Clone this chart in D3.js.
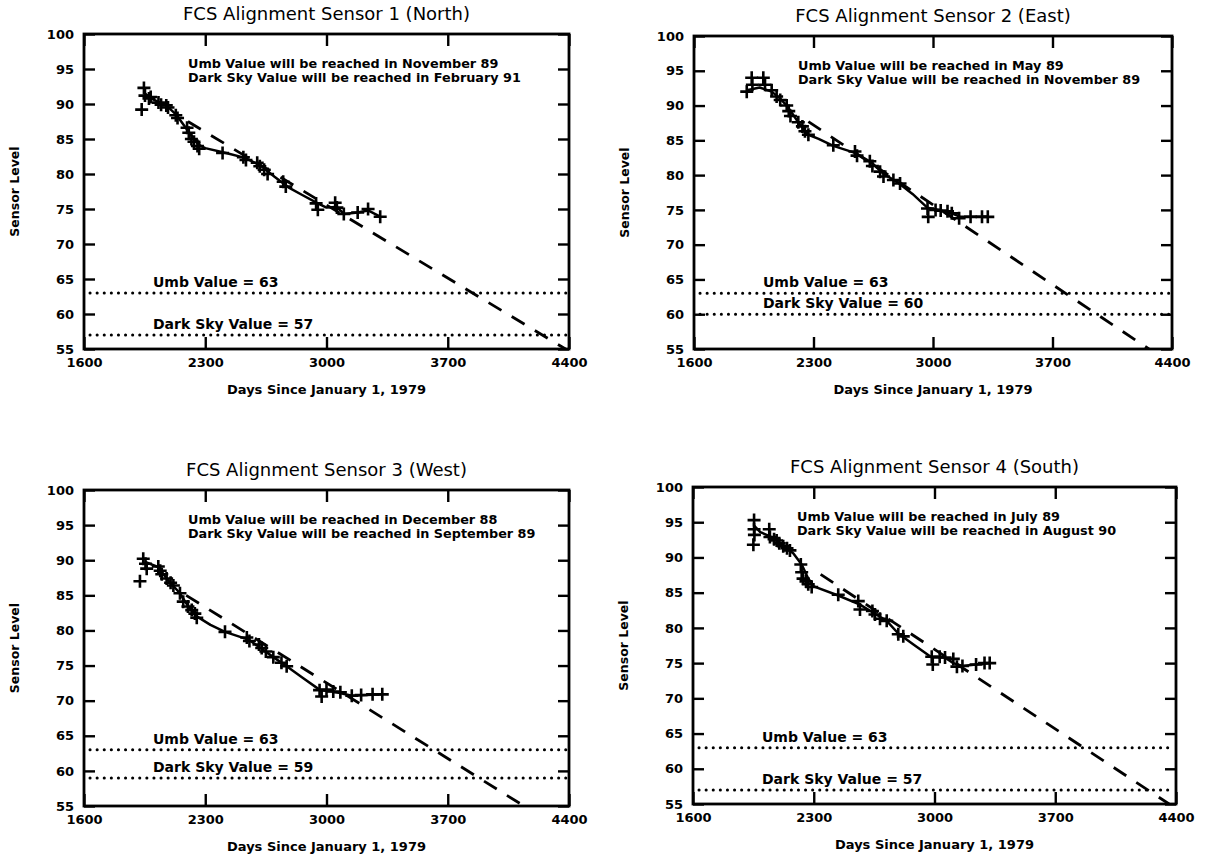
<!DOCTYPE html>
<html><head><meta charset="utf-8">
<script src="https://cdn.jsdelivr.net/npm/d3@7"></script>
<style>
html,body{margin:0;padding:0;background:#fff;}
svg{display:block;}
text{font-family:"DejaVu Sans",sans-serif;fill:#000;}
</style></head><body>
<svg id="chart" width="1207" height="854"></svg>
<script>
// ---------- DATA ----------
const xTicks = [1600, 2300, 3000, 3700, 4400];
const yTicks = [55, 60, 65, 70, 75, 80, 85, 90, 95, 100];
const titles = [
  "FCS Alignment Sensor 1 (North)",
  "FCS Alignment Sensor 2 (East)",
  "FCS Alignment Sensor 3 (West)",
  "FCS Alignment Sensor 4 (South)"
];
const umbValues = [63, 63, 63, 63];
const darkSkyValues = [57, 60, 59, 57];
const umbReached = ["November 89", "May 89", "December 88", "July 89"];
const darkReached = ["February 91", "November 89", "September 89", "August 90"];
const xAxisTitle = "Days Since January 1, 1979";
const yAxisTitle = "Sensor Level";

// measured readings (day, sensor level)
const sensor1Points = [[1933,89.2],[1946,92.3],[1952,91.2],[1975,90.8],[1985,91.0],[2030,90.2],[2045,89.9],[2075,89.8],[2085,89.5],[2130,88.4],[2140,88.0],[2195,86.6],[2205,85.9],[2220,85.0],[2235,84.6],[2255,84.0],[2265,83.6],[2400,83.0],[2520,82.4],[2535,82.0],[2600,81.6],[2615,81.1],[2640,80.6],[2660,80.0],[2750,78.9],[2765,78.2],[2940,75.8],[2950,74.9],[3050,75.9],[3060,75.2],[3100,74.3],[3180,74.5],[3240,75.0],[3310,73.9]];
const sensor2Points = [[1909,92.0],[1938,94.0],[1942,93.0],[2006,94.0],[2016,93.0],[2055,92.2],[2084,91.3],[2105,90.8],[2143,90.0],[2155,89.2],[2165,88.5],[2211,87.6],[2235,87.0],[2250,86.3],[2270,85.8],[2416,84.3],[2543,83.4],[2555,82.8],[2630,82.0],[2645,81.3],[2690,80.5],[2710,79.8],[2768,79.3],[2807,78.8],[2968,75.2],[2972,74.0],[3015,75.0],[3045,74.9],[3085,74.8],[3110,74.5],[3153,73.8],[3220,74.0],[3287,74.0],[3321,74.0]];
const sensor3Points = [[1923,87.0],[1942,90.2],[1955,89.5],[1962,88.8],[2029,89.1],[2040,88.5],[2049,88.0],[2077,87.4],[2100,86.8],[2116,86.4],[2154,85.3],[2173,84.1],[2200,83.4],[2222,82.9],[2240,82.4],[2251,81.8],[2414,79.8],[2540,79.0],[2555,78.5],[2610,78.0],[2626,77.5],[2650,77.0],[2693,76.2],[2740,75.4],[2770,74.9],[2960,71.5],[2972,70.6],[3000,71.6],[3039,71.3],[3080,71.2],[3146,70.7],[3200,70.8],[3266,70.9],[3322,70.9]];
const sensor4Points = [[1950,91.8],[1954,95.3],[1954,94.0],[1956,93.2],[2042,94.0],[2046,92.9],[2070,92.6],[2085,92.4],[2100,92.0],[2123,91.6],[2145,91.3],[2162,91.0],[2225,89.0],[2230,87.9],[2238,87.0],[2255,86.6],[2268,86.2],[2288,85.8],[2442,84.7],[2558,83.8],[2568,82.6],[2640,82.4],[2655,81.9],[2684,81.3],[2723,81.0],[2790,79.1],[2819,78.8],[2984,75.9],[2990,74.8],[3030,75.9],[3061,75.8],[3109,75.6],[3130,74.5],[3162,74.6],[3241,74.8],[3290,75.0],[3320,75.0]];

// smoothed trend through the readings
const sensor1Trend = [[1952,91.5],[1985,90.8],[2075,89.8],[2135,88.4],[2205,86.0],[2260,84.2],[2300,83.7],[2420,83.0],[2530,82.3],[2620,81.2],[2700,79.6],[2780,78.1],[2860,77.0],[2950,75.8],[3000,75.2],[3060,75.3],[3100,74.3],[3180,74.5],[3240,74.8],[3310,73.9]];
const sensor2Trend = [[1909,92.2],[1985,92.6],[2055,92.0],[2105,91.0],[2143,90.0],[2211,87.6],[2270,85.8],[2330,85.2],[2416,84.2],[2543,83.2],[2641,81.8],[2710,80.2],[2790,79.0],[2880,77.3],[2968,75.3],[3045,74.9],[3110,74.5],[3160,74.0],[3321,74.0]];
const sensor3Trend = [[1950,89.8],[2030,89.0],[2077,87.4],[2150,85.4],[2200,83.5],[2251,82.0],[2330,80.8],[2414,79.8],[2549,78.7],[2626,77.4],[2693,76.2],[2770,74.9],[2860,73.3],[2963,71.5],[3040,71.3],[3146,70.7],[3322,70.9]];
const sensor4Trend = [[1954,94.5],[1990,93.6],[2046,93.0],[2085,92.4],[2123,91.6],[2181,90.6],[2230,89.0],[2268,87.0],[2300,85.9],[2442,84.6],[2568,83.3],[2655,82.0],[2723,81.0],[2790,79.2],[2880,77.6],[2984,75.8],[3061,75.8],[3109,75.0],[3162,74.6],[3241,74.8],[3320,75.0]];

// linear projection (dashed)
const sensor1Projection = [[2200,87.5],[4380,55]];
const sensor2Projection = [[2270,87.7],[4265,55]];
const sensor3Projection = [[2190,85.0],[4140,55]];
const sensor4Projection = [[2340,87.6],[4360,55]];

const allPoints = [sensor1Points, sensor2Points, sensor3Points, sensor4Points];
const allTrends = [sensor1Trend, sensor2Trend, sensor3Trend, sensor4Trend];
const allProjections = [sensor1Projection, sensor2Projection, sensor3Projection, sensor4Projection];

// ---------- LAYOUT ----------
const panelBoxes = [
  {left:84,  right:569,  top:34,  bottom:349},
  {left:694, right:1172, top:36,  bottom:349},
  {left:84,  right:569,  top:490, bottom:806},
  {left:693, right:1176, top:487, bottom:804}
];

const svg = d3.select("#chart");

panelBoxes.forEach((box, i) => {
  const w = box.right - box.left, h = box.bottom - box.top;
  const g = svg.append("g").attr("transform", `translate(${box.left},${box.top})`);
  const x = d3.scaleLinear().domain([1600, 4400]).range([0, w]);
  const y = d3.scaleLinear().domain([55, 100]).range([h, 0]);

  const clipId = "clip" + i;
  g.append("clipPath").attr("id", clipId).append("rect").attr("width", w).attr("height", h);

  // axes
  const left = g.append("g").call(d3.axisLeft(y).tickValues(yTicks).tickSize(-11).tickPadding(10).tickFormat(d3.format("d")));
  const right = g.append("g").attr("transform", `translate(${w},0)`).call(d3.axisRight(y).tickValues(yTicks).tickSize(-11).tickFormat(""));
  const bottom = g.append("g").attr("transform", `translate(0,${h})`).call(d3.axisBottom(x).tickValues(xTicks).tickSize(-12).tickPadding(9).tickFormat(d3.format("d")));
  const top = g.append("g").call(d3.axisTop(x).tickValues(xTicks).tickSize(-12).tickFormat(""));
  [left, right, bottom, top].forEach(a => {
    a.select(".domain").remove();
    a.selectAll(".tick line").attr("stroke", "#000").attr("stroke-width", 2.4);
    a.selectAll(".tick text").attr("font-size", 13).attr("font-weight", "bold").attr("fill", "#000")
      .style("font-family", '"DejaVu Sans",sans-serif');
  });

  g.append("rect").attr("width", w).attr("height", h)
    .attr("fill", "none").attr("stroke", "#000").attr("stroke-width", 2.8);

  // threshold dotted lines
  [[umbValues[i], "Umb Value = " + umbValues[i]], [darkSkyValues[i], "Dark Sky Value = " + darkSkyValues[i]]].forEach(([v, label]) => {
    g.append("line").attr("x1", 6).attr("x2", w - 3).attr("y1", y(v)).attr("y2", y(v))
      .attr("stroke", "#000").attr("stroke-width", 3).attr("stroke-linecap", "round")
      .attr("stroke-dasharray", "0.1,7");
    g.append("text").attr("x", 69).attr("y", y(v) - 6)
      .attr("font-size", 14).attr("font-weight", "bold").text(label);
  });

  const plot = g.append("g").attr("clip-path", `url(#${clipId})`);
  const lineGen = d3.line().x(d => x(d[0])).y(d => y(d[1]));

  // projection
  plot.append("path").datum(allProjections[i]).attr("d", lineGen)
    .attr("fill", "none").attr("stroke", "#000").attr("stroke-width", 2.8)
    .attr("stroke-dasharray", "15,12");

  // trend
  plot.append("path").datum(allTrends[i]).attr("d", lineGen)
    .attr("fill", "none").attr("stroke", "#000").attr("stroke-width", 2.5).attr("stroke-linejoin", "round");

  // crosses
  plot.selectAll("path.cross").data(allPoints[i]).enter().append("path")
    .attr("class", "cross")
    .attr("transform", d => `translate(${x(d[0])},${y(d[1])})`)
    .attr("d", "M-6.5,0H6.5M0,-6.5V6.5")
    .attr("stroke", "#000").attr("stroke-width", 2.6).attr("fill", "none");

  // annotation
  g.append("text").attr("x", 104).attr("y", 34).attr("font-size", 12.8).attr("font-weight", "bold")
    .text("Umb Value will be reached in " + umbReached[i]);
  g.append("text").attr("x", 104).attr("y", 48).attr("font-size", 12.8).attr("font-weight", "bold")
    .text("Dark Sky Value will be reached in " + darkReached[i]);

  // titles
  g.append("text").attr("x", w / 2).attr("y", -14).attr("text-anchor", "middle")
    .attr("font-size", 18).text(titles[i]);
  g.append("text").attr("x", w / 2).attr("y", h + 45).attr("text-anchor", "middle")
    .attr("font-size", 13).attr("font-weight", "bold").text(xAxisTitle);
  g.append("text").attr("transform", `translate(-65,${h / 2}) rotate(-90)`).attr("text-anchor", "middle")
    .attr("font-size", 12.5).attr("font-weight", "bold").text(yAxisTitle);
});
</script></body></html>
